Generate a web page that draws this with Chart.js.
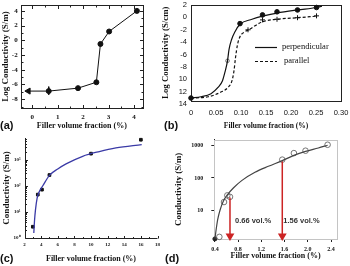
<!DOCTYPE html>
<html lang="en">
<head>
<meta charset="utf-8">
<title>Conductivity vs filler volume fraction</title>
<script src="https://cdn.jsdelivr.net/npm/chart.js@4.4.1/dist/chart.umd.min.js"></script>
<style>
  html, body { margin: 0; padding: 0; background: #fff; overflow: hidden; }
  #wrap { position: relative; width: 350px; height: 266px; background: #fff; }
  #wrap canvas { position: absolute; }
  .tag { position: absolute; font: bold 11px "Liberation Sans", Arial, sans-serif; line-height: 11px; color: #111; }
</style>
</head>
<body>
<div id="wrap">
  <canvas id="chartA" width="175" height="133" style="left:0;top:0"></canvas>
  <canvas id="chartB" width="190" height="133" style="left:160px;top:0"></canvas>
  <canvas id="chartC" width="175" height="133" style="left:0;top:133px"></canvas>
  <canvas id="chartD" width="180" height="133" style="left:170px;top:133px"></canvas>
  <div class="tag" style="left:0;top:120px">(a)</div>
  <div class="tag" style="left:164px;top:120px">(b)</div>
  <div class="tag" style="left:0;top:253px">(c)</div>
  <div class="tag" style="left:165px;top:253px">(d)</div>
</div>
<script>
// (a) log conductivity, first point is the "below" arrow
const aFrac = [-0.15, 0.65, 1.8, 2.52, 2.68, 3.02, 4.11];
const aLogCond = [-6.9, -6.9, -6.5, -5.7, -0.5, 1.2, 4.0];
const aErrFrac = [0.65, 0.65];
const aErrLog = [-6.3, -7.4];
const aXTicks = [0, 1, 2, 3, 4];
const aYTicks = [-8, -6, -4, -2, 0, 2, 4];

// (b) perpendicular / parallel
const bXTicks = [0, 0.05, 0.1, 0.15, 0.2, 0.25, 0.3];
const bYTicks = [2, 0, -2, -4, -6, -8, -10, -12, -14];
const bYLabels = ['2', '0', '-2', '-4', '-6', '-8', '10', '12', '14'];
const perpCurveX = [0, 0.02, 0.04, 0.054, 0.063, 0.068, 0.073, 0.076, 0.081, 0.088, 0.098, 0.122, 0.143, 0.172, 0.213, 0.251, 0.262];
const perpCurveY = [-13, -12.8, -12.3, -11.3, -10.2, -8.8, -7.0, -5.2, -3.6, -2.3, -1.1, -0.3, 0.2, 0.7, 1.2, 1.6, 1.8];
const perpDotX = [0, 0.098, 0.143, 0.172, 0.213, 0.251];
const perpDotY = [-13, -1.0, 0.4, 0.9, 1.2, 1.6];
const perpOpenX = [0.073];
const perpOpenY = [-7.0];
const parCurveX = [0, 0.034, 0.061, 0.074, 0.082, 0.086, 0.089, 0.093, 0.098, 0.108, 0.114, 0.143, 0.172, 0.213, 0.251];
const parCurveY = [-13, -12.8, -12.0, -11.3, -10.2, -8.6, -6.5, -4.4, -3.1, -2.3, -2.05, -0.7, -0.3, -0.05, 0.2];
const parMarkX = [0.114, 0.143, 0.172, 0.213, 0.251];
const parMarkY = [-2.0, -0.4, -0.3, -0.05, 0.25];

// (c) conductivity, log axis
const cFrac = [3.0, 3.6, 4.1, 5.0, 10.0, 16.0];
const cCond = [2.7, 46, 71, 258, 1700, 5800];
const cFitX = [3.12, 3.2, 3.32, 3.52, 3.8, 4.2, 5.0, 6.0, 7.0, 9.0, 11.0, 13.0, 16.1];
const cFitY = [1.55, 4.4, 12, 34, 62, 100, 252, 440, 690, 1350, 2040, 2820, 3800];
const cXTicks = [2, 4, 6, 8, 10, 12, 14, 16, 18];
const cYTicks = [1, 10, 100, 1000];
const cYLabels = ['10\u2070', '10\u00b9', '10\u00b2', '10\u00b3'];

// (d) conductivity with percolation arrows
const dFrac = [0.477, 0.557, 0.614, 0.66, 1.56, 1.76, 1.96, 2.34];
const dCond = [1.5, 18, 29, 26, 370, 590, 700, 1070];
const dStartX = [0.4];
const dStartY = [1.3];
const dFitX = [0.4, 0.414, 0.448, 0.488, 0.545, 0.614, 0.718, 0.861, 1.09, 1.32, 1.56, 1.76, 1.96, 2.18, 2.34];
const dFitY = [1.3, 2.0, 5.1, 10, 19, 30, 49, 83, 150, 230, 345, 500, 665, 850, 1030];
const dArrowX = [0.66, 1.56];
const dArrowTop = [25, 330];
const dArrowEnd = 1.6;
const dNotes = ['0.66 vol.%', '1.56 vol.%'];
const dNoteX = [0.746, 1.578];
const dNoteY = 4.8;
const dXTicks = [0.4, 0.8, 1.2, 1.6, 2.0, 2.4];
const dYTicks = [10, 100, 1000];

const serif = '"Liberation Serif", "Times New Roman", serif';
const sans = '"Liberation Sans", Arial, sans-serif';
Chart.defaults.font.family = serif;
Chart.defaults.color = '#111';

const pts = (xs, ys) => xs.map((x, i) => ({ x, y: ys[i] }));

// fix the axis band size so the plot area lands where the original has it
function fitBox(size, horizontal) {
  return s => {
    if (horizontal) s.height = size; else s.width = size;
    s.paddingLeft = s.paddingRight = s.paddingTop = s.paddingBottom = 0;
  };
}
function useTicks(values) {
  return s => { s.ticks = values.map(value => ({ value })); };
}
const bold = (size, family) => ({ family: family || serif, size, weight: 'bold' });
const noGrid = { display: false, drawTicks: false };

function baseOptions(pad, scales, extra) {
  return Object.assign({
    responsive: false,
    animation: false,
    events: [],
    layout: { padding: pad },
    plugins: { legend: { display: false }, tooltip: { enabled: false } },
    scales
  }, extra || {});
}

// ---------- (a) ----------
const frameA = {
  id: 'frameA',
  beforeDatasetsDraw(chart) {
    const { ctx, chartArea: a, scales: { x, y } } = chart;
    const l = Math.round(a.left) + 0.5, r = Math.round(a.right) + 0.5;
    const t = Math.round(a.top) + 0.5, b = Math.round(a.bottom) + 0.5;
    ctx.save();
    ctx.strokeStyle = '#222';
    ctx.lineWidth = 1;
    ctx.strokeRect(l, t, r - l, b - t);
    ctx.beginPath();
    for (let v = 0; v <= 4; v += 0.5) {
      const px = Math.round(x.getPixelForValue(v)) + 0.5;
      const len = v % 1 ? 2 : 3.5;
      ctx.moveTo(px, b); ctx.lineTo(px, b - len);
      ctx.moveTo(px, t); ctx.lineTo(px, t + len);
    }
    for (let v = -9; v <= 4; v++) {
      const py = Math.round(y.getPixelForValue(v)) + 0.5;
      const len = v % 2 ? 2 : 3.5;
      ctx.moveTo(l, py); ctx.lineTo(l + len, py);
      ctx.moveTo(r, py); ctx.lineTo(r - len, py);
    }
    ctx.stroke();
    ctx.restore();
  }
};

new Chart(document.getElementById('chartA'), {
  type: 'scatter',
  data: {
    datasets: [
      {
        data: pts(aFrac, aLogCond),
        showLine: true,
        borderColor: '#111',
        borderWidth: 1,
        pointBackgroundColor: '#111',
        pointBorderColor: '#111',
        pointStyle: aFrac.map((_, i) => i === 0 ? 'triangle' : 'circle'),
        pointRotation: aFrac.map((_, i) => i === 0 ? -90 : 0),
        pointRadius: aFrac.map((_, i) => i === 0 ? 3.5 : 2.5),
        clip: false
      },
      {
        data: pts(aErrFrac, aErrLog),
        showLine: true,
        borderColor: '#111',
        borderWidth: 1,
        pointRadius: 0
      }
    ]
  },
  options: baseOptions({ top: 3, left: 0, right: 32, bottom: 0 }, {
    x: {
      type: 'linear', min: -0.45, max: 4.35, bounds: 'data',
      afterBuildTicks: useTicks(aXTicks), afterFit: fitBox(25, true),
      grid: noGrid, border: { display: false },
      ticks: { padding: 4.5, font: bold(7), maxRotation: 0, autoSkip: false },
      title: { display: true, text: 'Filler volume fraction (%)', font: bold(8), padding: { top: 0, bottom: 2.2 } }
    },
    y: {
      type: 'linear', min: -9.2, max: 4.8, bounds: 'data',
      afterBuildTicks: useTicks(aYTicks), afterFit: fitBox(20.7, false),
      grid: noGrid, border: { display: false },
      ticks: { padding: 3, font: bold(7), autoSkip: false },
      title: { display: true, text: 'Log Conductivity (S/m)', font: bold(9), padding: { top: 0, bottom: 0 } }
    }
  }),
  plugins: [frameA]
});

// ---------- (b) ----------
const frameB = {
  id: 'frameB',
  beforeDatasetsDraw(chart) {
    const { ctx, chartArea: a } = chart;
    ctx.save();
    ctx.strokeStyle = '#222';
    ctx.lineWidth = 1;
    ctx.strokeRect(Math.round(a.left) + 0.5, Math.round(a.top) + 0.5, Math.round(a.width), Math.round(a.height));
    ctx.restore();
  },
  afterDatasetsDraw(chart) {
    const { ctx, chartArea: a } = chart;
    const x0 = a.left + 64, x1 = a.left + 86;
    ctx.save();
    ctx.strokeStyle = '#111';
    ctx.lineWidth = 1.2;
    ctx.beginPath();
    ctx.moveTo(x0, 47.5); ctx.lineTo(x1, 47.5);
    ctx.stroke();
    ctx.setLineDash([3, 2]);
    ctx.beginPath();
    ctx.moveTo(x0, 61.5); ctx.lineTo(x1, 61.5);
    ctx.stroke();
    ctx.setLineDash([]);
    ctx.fillStyle = '#111';
    ctx.font = '8.5px ' + serif;
    ctx.textBaseline = 'middle';
    ctx.fillText('perpendicular', x1 + 5, 47);
    ctx.fillText('parallel', x1 + 7, 61);
    ctx.restore();
  }
};

new Chart(document.getElementById('chartB'), {
  type: 'scatter',
  data: {
    datasets: [
      {
        data: pts(perpCurveX, perpCurveY), showLine: true, cubicInterpolationMode: 'monotone',
        borderColor: '#111', borderWidth: 1.2, pointRadius: 0
      },
      {
        data: pts(parCurveX, parCurveY), showLine: true, cubicInterpolationMode: 'monotone',
        borderColor: '#111', borderWidth: 1.2, borderDash: [3, 2], pointRadius: 0
      },
      {
        data: pts(parMarkX, parMarkY), showLine: false, pointStyle: 'cross',
        pointRadius: 2.5, pointBorderColor: '#111', pointBorderWidth: 1, clip: false
      },
      {
        data: pts(perpDotX, perpDotY), showLine: false, pointStyle: 'circle',
        pointRadius: 2.3, pointBackgroundColor: '#111', pointBorderColor: '#111', clip: false
      },
      {
        data: pts(perpOpenX, perpOpenY), showLine: false, pointStyle: 'circle',
        pointRadius: 1.8, pointBackgroundColor: '#fff', pointBorderColor: '#555', pointBorderWidth: 0.8
      }
    ]
  },
  options: baseOptions({ top: 3, left: 0, right: 9, bottom: 0 }, {
    x: {
      type: 'linear', min: 0, max: 0.3, bounds: 'data',
      afterBuildTicks: useTicks(bXTicks), afterFit: fitBox(32.5, true),
      grid: noGrid, border: { display: false },
      ticks: { padding: 8, font: { family: sans, size: 7.5 }, maxRotation: 0, autoSkip: false },
      title: { display: true, text: 'Filler volume fraction (%)', font: bold(7.5), padding: { top: 0, bottom: 2.5 } }
    },
    y: {
      type: 'linear', min: -13.4, max: 2, bounds: 'data',
      afterBuildTicks: useTicks(bYTicks), afterFit: fitBox(31, false),
      grid: noGrid, border: { display: false },
      ticks: { padding: 4, font: { family: sans, size: 7.5 }, autoSkip: false, callback: (v, i) => bYLabels[i] },
      title: { display: true, text: 'Log Conductivity (S/cm)', font: bold(8.8), padding: { top: 0.5, bottom: 0 } }
    }
  }),
  plugins: [frameB]
});

// ---------- (c) ----------
const frameC = {
  id: 'frameC',
  beforeDatasetsDraw(chart) {
    const { ctx, chartArea: a, scales: { x, y } } = chart;
    const l = Math.round(a.left) + 0.5, b = Math.round(a.bottom) + 0.5;
    ctx.save();
    ctx.strokeStyle = '#222';
    ctx.lineWidth = 1;
    ctx.beginPath();
    ctx.moveTo(l, a.top); ctx.lineTo(l, b); ctx.lineTo(a.right, b);
    for (let v = 2; v <= 18; v++) {
      const px = Math.round(x.getPixelForValue(v)) + 0.5;
      ctx.moveTo(px, b); ctx.lineTo(px, b - (v % 2 ? 1.5 : 2.5));
    }
    for (let d = 1; d <= 1000; d *= 10) {
      for (let k = 1; k <= 9; k++) {
        const v = d * k;
        if (v > y.max) break;
        const py = Math.round(y.getPixelForValue(v)) + 0.5;
        ctx.moveTo(l, py); ctx.lineTo(l + (k === 1 ? 2.5 : 1.5), py);
      }
    }
    ctx.stroke();
    ctx.restore();
  }
};

new Chart(document.getElementById('chartC'), {
  type: 'scatter',
  data: {
    datasets: [
      {
        data: pts(cFitX, cFitY), showLine: true, cubicInterpolationMode: 'monotone',
        borderColor: '#3a3aa6', borderWidth: 1.3, pointRadius: 0
      },
      {
        data: pts(cFrac, cCond), showLine: false, pointStyle: 'rect',
        pointRadius: 1.9, pointBackgroundColor: '#111', pointBorderColor: '#111', clip: false
      }
    ]
  },
  options: baseOptions({ top: 5, left: 0, right: 17.5, bottom: 0 }, {
    x: {
      type: 'linear', min: 2, max: 18, bounds: 'data',
      afterBuildTicks: useTicks(cXTicks), afterFit: fitBox(28, true),
      grid: noGrid, border: { display: false },
      ticks: { padding: 3.7, font: bold(5), maxRotation: 0, autoSkip: false },
      title: { display: true, text: 'Filler volume fraction (%)', font: bold(8), padding: { top: 0, bottom: 2.2 } }
    },
    y: {
      type: 'logarithmic', min: 1, max: 6760, bounds: 'data',
      afterBuildTicks: useTicks(cYTicks), afterFit: fitBox(24.5, false),
      grid: noGrid, border: { display: false },
      ticks: { padding: 4, font: bold(5), autoSkip: false, callback: (v, i) => cYLabels[i] },
      title: { display: true, text: 'Conductivity (S/m)', font: bold(9), padding: { top: 1.5, bottom: 0 } }
    }
  }),
  plugins: [frameC]
});

// ---------- (d) ----------
const frameD = {
  id: 'frameD',
  beforeDatasetsDraw(chart) {
    const { ctx, chartArea: a } = chart;
    ctx.save();
    ctx.strokeStyle = '#c4c4c4';
    ctx.lineWidth = 1;
    ctx.strokeRect(Math.round(a.left) + 0.5, Math.round(a.top) + 0.5, Math.round(a.width), Math.round(a.height));
    ctx.restore();
  },
  afterDatasetsDraw(chart) {
    const { ctx, scales: { x, y } } = chart;
    ctx.save();
    ctx.fillStyle = '#333';
    ctx.font = 'bold 7.5px ' + sans;
    ctx.textBaseline = 'middle';
    dNotes.forEach((t, i) => ctx.fillText(t, x.getPixelForValue(dNoteX[i]), y.getPixelForValue(dNoteY)));
    ctx.restore();
  }
};

const arrowSets = dArrowX.map((ax, i) => ({
  data: pts([ax, ax], [dArrowTop[i], dArrowEnd]),
  showLine: true,
  borderColor: '#cc2424',
  borderWidth: 1.5,
  pointStyle: 'triangle',
  pointRotation: 180,
  pointRadius: [0, 3.6],
  pointBackgroundColor: '#cc2424',
  pointBorderColor: '#cc2424',
  clip: false
}));

new Chart(document.getElementById('chartD'), {
  type: 'scatter',
  data: {
    datasets: [
      {
        data: pts(dFitX, dFitY), showLine: true, cubicInterpolationMode: 'monotone',
        borderColor: '#444', borderWidth: 1.2, pointRadius: 0
      },
      ...arrowSets,
      {
        data: pts(dFrac, dCond), showLine: false, pointStyle: 'circle',
        pointRadius: 2.8, pointBackgroundColor: 'rgba(255,255,255,0)', pointBorderColor: '#666', pointBorderWidth: 0.9, clip: false
      },
      {
        data: pts(dStartX, dStartY), showLine: false, pointStyle: 'circle',
        pointRadius: 2, pointBackgroundColor: '#222', pointBorderColor: '#222', clip: false
      }
    ]
  },
  options: baseOptions({ top: 6.7, left: 0, right: 13.1, bottom: 0 }, {
    x: {
      type: 'linear', min: 0.39, max: 2.5, bounds: 'data',
      afterBuildTicks: useTicks(dXTicks), afterFit: fitBox(27, true),
      grid: { display: true, drawOnChartArea: false, drawTicks: true, tickLength: 3, color: '#222' },
      border: { display: true, color: '#222', width: 1 },
      ticks: { padding: 3.4, font: bold(6), maxRotation: 0, autoSkip: false, callback: v => v.toFixed(1) },
      title: { display: true, text: 'Filler volume fraction (%)', font: bold(8), padding: { top: 0, bottom: 4.9 } }
    },
    y: {
      type: 'logarithmic', min: 1.29, max: 1535, bounds: 'data',
      afterBuildTicks: useTicks(dYTicks), afterFit: fitBox(44.3, false),
      grid: { display: true, drawOnChartArea: false, drawTicks: true, tickLength: 3, color: '#222' },
      border: { display: true, color: '#222', width: 1 },
      ticks: { padding: 8, font: bold(6), autoSkip: false, callback: v => String(v) },
      title: { display: true, text: 'Conductivity (S/m)', font: bold(9), padding: { top: 3.6, bottom: 0 } }
    }
  }),
  plugins: [frameD]
});
</script>
</body>
</html>
